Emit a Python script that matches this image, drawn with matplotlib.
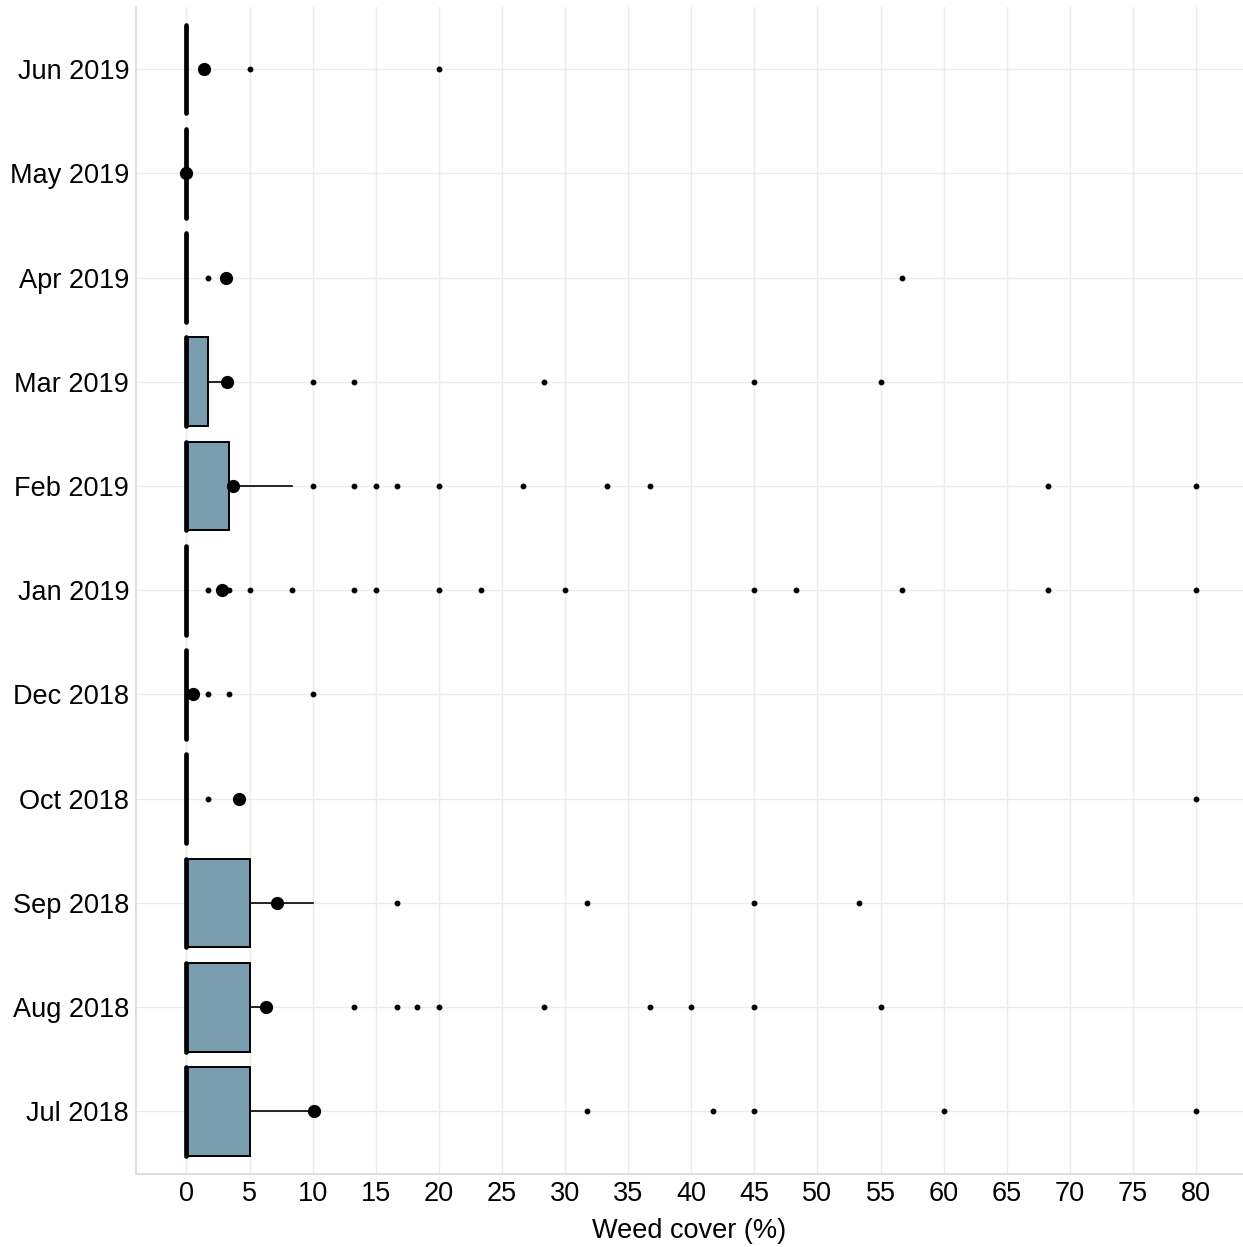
import matplotlib
matplotlib.use("Agg")
import matplotlib.pyplot as plt

plt.rcParams["font.family"] = ["Liberation Sans", "DejaVu Sans"]

months = ["Jul 2018", "Aug 2018", "Sep 2018", "Oct 2018", "Dec 2018",
          "Jan 2019", "Feb 2019", "Mar 2019", "Apr 2019", "May 2019", "Jun 2019"]

# Box summary per month (weed cover, %)
q1 = [0, 0, 0, 0, 0, 0, 0, 0, 0, 0, 0]
median = [0, 0, 0, 0, 0, 0, 0, 0, 0, 0, 0]
q3 = [5, 5, 5, 0, 0, 0, 3.33, 1.67, 0, 0, 0]
whisker_lo = [0, 0, 0, 0, 0, 0, 0, 0, 0, 0, 0]
whisker_hi = [10, 6.67, 10, 0, 0, 0, 8.33, 3.33, 0, 0, 0]
means = [10.1, 6.3, 7.2, 4.15, 0.5, 2.85, 3.65, 3.2, 3.1, 0.0, 1.4]
outliers = [
    [31.7, 41.7, 45, 60, 80],
    [13.3, 16.7, 18.3, 20, 28.3, 36.7, 40, 45, 55],
    [16.7, 31.7, 45, 53.3],
    [1.67, 80],
    [1.67, 3.33, 10],
    [1.67, 3.33, 5, 8.33, 13.3, 15, 20, 23.3, 30, 45, 48.3, 56.7, 68.3, 80],
    [10, 13.3, 15, 16.7, 20, 26.7, 33.3, 36.7, 68.3, 80],
    [10, 13.3, 28.3, 45, 55],
    [1.67, 56.7],
    [],
    [5, 20],
]
x_ticks = list(range(0, 85, 5))

W, H = 1243, 1247
fig = plt.figure(figsize=(W / 100, H / 100), dpi=100)
ax = fig.add_axes([136 / W, (H - 1174) / H, 1 - 136 / W, (1174 - 6.5) / H])

stats = []
for i, m in enumerate(months):
    stats.append(dict(label=m, q1=q1[i], med=median[i], q3=q3[i],
                      whislo=whisker_lo[i], whishi=whisker_hi[i],
                      mean=means[i], fliers=outliers[i]))

positions = list(range(1, len(months) + 1))
ax.bxp(stats, positions=positions, widths=0.85, orientation="horizontal",
       patch_artist=True, showmeans=True, showcaps=False,
       boxprops=dict(facecolor="#799DAE", edgecolor="black", linewidth=1.4),
       medianprops=dict(color="black", linewidth=3.4, solid_capstyle="round"),
       whiskerprops=dict(color="black", linewidth=1.2),
       meanprops=dict(marker="o", markerfacecolor="black", markeredgecolor="black",
                      markersize=8.5),
       flierprops=dict(marker="o", markerfacecolor="black", markeredgecolor="black",
                       markersize=3.2, linestyle="none"),
       zorder=3)

ax.set_xlim(-4, 83.72)
ax.set_ylim(0.4, 11.6)
ax.set_xticks(x_ticks)
ax.set_yticks(positions)
ax.set_yticklabels(months)
ax.tick_params(axis="both", length=0, labelsize=19.5, colors="black")
ax.tick_params(axis="y", pad=5)
ax.tick_params(axis="x", pad=5)
ax.set_xlabel("Weed cover (%)", fontsize=19.5, labelpad=8)

ax.grid(True, color="#EBEBEB", linewidth=1.0, zorder=0)
ax.set_axisbelow(True)
for side in ["top", "right"]:
    ax.spines[side].set_visible(False)
for side in ["left", "bottom"]:
    ax.spines[side].set_color("#D9D9D9")
    ax.spines[side].set_linewidth(1.2)

fig.savefig("out.png", dpi=100)
